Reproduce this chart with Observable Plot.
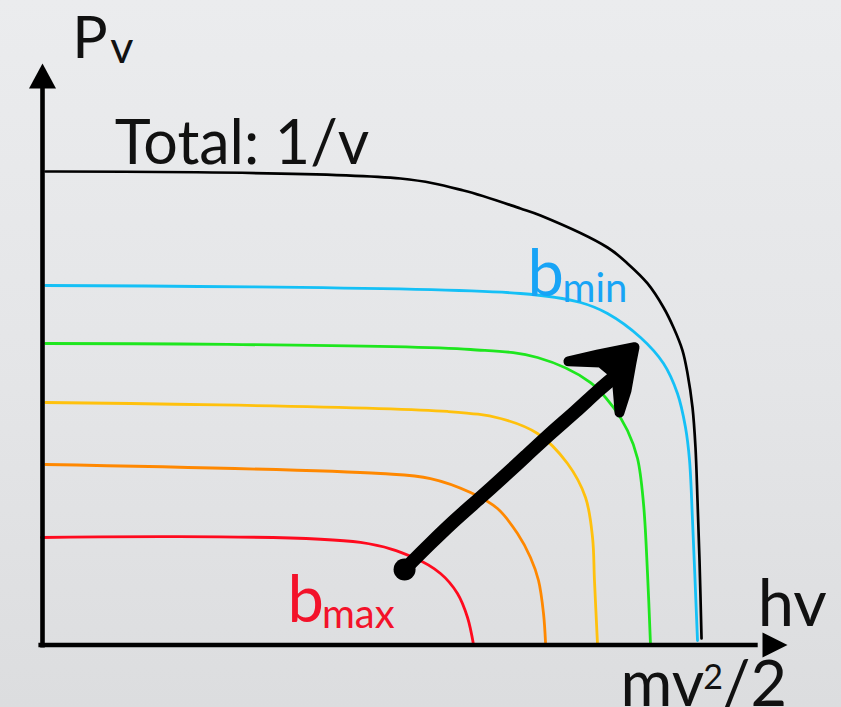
<!DOCTYPE html>
<html>
<head>
<meta charset="utf-8">
<script src="https://cdn.jsdelivr.net/npm/d3@7"></script>
<script src="https://cdn.jsdelivr.net/npm/@observablehq/plot@0.6"></script>
<style>
  html, body { margin: 0; padding: 0; }
  body {
    width: 841px; height: 707px; overflow: hidden;
    background: linear-gradient(to bottom, #ebecee 0%, #e4e5e7 55%, #dcdddf 100%);
  }
  #chart { position: absolute; left: 0; top: 0; }
</style>
</head>
<body>
<div id="chart"></div>
<script>
// Bremsstrahlung spectrum P_v against photon energy hv, in arbitrary units (0–100).
// Each impact-parameter curve is a list of [hv, P_v] points.
const totalCurve = [[0.4,81.43],[48.05,80.22],[56.51,78.16],[64.16,75.06],[66.85,73.86],[75.84,68.36],[78.52,65.61],[81.21,62.17],[83.36,58.04],[84.70,54.60],[85.91,50.64],[86.58,46.69],[87.25,40.84],[87.65,33.96],[87.92,24.85],[88.19,14.53],[88.46,1.12]];
const bMinCurve   = [[0.4,61.82],[64.16,60.45],[72.21,58.90],[75.84,57.01],[80.27,52.88],[83.36,48.41],[85.23,43.25],[86.31,37.40],[86.85,31.73],[87.25,21.41],[87.92,0.77]];
const greenCurve  = [[0.4,51.85],[57.45,50.82],[66.44,49.44],[73.56,45.14],[76.64,40.84],[78.52,36.89],[79.87,32.07],[80.67,24.33],[81.21,12.30],[81.61,0.09]];
const yellowCurve = [[0.4,41.70],[54.36,40.16],[61.48,38.95],[66.44,36.37],[70.47,31.21],[72.89,25.37],[73.83,18.49],[74.09,11.09],[74.50,0.09]];
const orangeCurve = [[0.4,31.04],[45.37,29.49],[52.08,28.63],[57.45,26.23],[61.07,23.47],[63.76,19.17],[65.50,15.05],[66.58,11.09],[67.25,5.42],[67.52,0.43]];
const bMaxCurve   = [[-0.13,18.49],[42.68,17.63],[49.80,15.05],[53.42,12.30],[55.70,8.86],[57.05,4.73],[57.85,0.09]];

const curves = [
  {name: "total", points: totalCurve,  color: "#000000", width: 2.7},
  {name: "bmin",  points: bMinCurve,   color: "#15c0f6", width: 2.8},
  {name: "b2",    points: greenCurve,  color: "#1ee61e", width: 2.8},
  {name: "b3",    points: yellowCurve, color: "#ffc10d", width: 2.8},
  {name: "b4",    points: orangeCurve, color: "#ff8800", width: 2.8},
  {name: "bmax",  points: bMaxCurve,   color: "#ff0a1e", width: 2.8}
];

// Hand-drawn arrow: from b_max towards b_min
const arrowShaft = [[48.72,13.17],[52.08,17.46],[55.03,21.07],[58.79,25.37],[61.48,28.46],[64.83,32.41],[68.19,36.37],[71.54,40.15],[74.63,43.77],[76.51,45.83]];
const arrowHead  = [[79.46,51.20],[74.63,49.98],[70.60,48.78],[74.90,48.59],[77.05,46.34],[77.32,42.39],[77.45,39.98],[78.39,43.77],[79.06,48.59],[79.46,51.20]];
const arrowTail  = [[48.6,13.0]];

// Axes
const axisLines = [
  {x1: 0, y1: -0.45, x2: 0, y2: 96},
  {x1: -0.55, y1: 0, x2: 96, y2: 0}
];
const axisTips = [
  {x: 0, y: 100, dir: "up"},
  {x: 100, y: 0, dir: "right"}
];

// Labels: text, hv, P_v (baseline), size, colour
const labelText  = ["P", "v", "Total: 1/v", "b", "min", "b", "max", "hv", "mv", "2", "/2"];
const labelX     = [4.0, 9.1, 9.7, 65.1, 69.8, 32.9, 37.5, 96.0, 77.6, 88.7, 91.2];
const labelY     = [100.9, 100.1, 82.8, 60.0, 59.0, 3.9, 3.0, 3.3, -10.5, -7.6, -10.5];
const labelSize  = [59, 45, 61, 65, 40, 65, 40, 65, 63, 34, 63];
const labelColor = ["#111", "#111", "#111", "#18a4f6", "#18a4f6", "#f3122a", "#f3122a", "#111", "#111", "#111", "#111"];

const labels = labelText.map((t, i) => ({
  text: t, x: labelX[i], y: labelY[i], size: labelSize[i], color: labelColor[i]
}));

// Filled triangle arrowheads with the tip at the symbol origin
const tipUp = {
  draw(ctx, size) {
    const r = Math.sqrt(size / Math.PI);
    ctx.moveTo(0, 0);
    ctx.lineTo(-1.35 * r, 2.5 * r);
    ctx.lineTo(1.35 * r, 2.5 * r);
    ctx.closePath();
  }
};
const tipRight = {
  draw(ctx, size) {
    const r = Math.sqrt(size / Math.PI);
    ctx.moveTo(0, 0);
    ctx.lineTo(-2.5 * r, -1.25 * r);
    ctx.lineTo(-2.5 * r, 1.25 * r);
    ctx.closePath();
  }
};

const chart = Plot.plot({
  width: 841,
  height: 707,
  marginLeft: 42,
  marginRight: 54,
  marginTop: 63,
  marginBottom: 62.5,
  x: {domain: [0, 100], axis: null},
  y: {domain: [0, 100], axis: null},
  style: {background: "transparent", overflow: "visible"},
  marks: [
    ...curves.map(c => Plot.line(c.points, {
      x: d => d[0], y: d => d[1],
      stroke: c.color, strokeWidth: c.width, curve: "catmull-rom"
    })),
    Plot.link(axisLines, {x1: "x1", y1: "y1", x2: "x2", y2: "y2", stroke: "#000", strokeWidth: 4.6}),
    Plot.dot(axisTips.filter(d => d.dir === "up"), {x: "x", y: "y", r: 10, symbol: tipUp, fill: "#000", stroke: null}),
    Plot.dot(axisTips.filter(d => d.dir === "right"), {x: "x", y: "y", r: 10, symbol: tipRight, fill: "#000", stroke: null}),
    Plot.line(arrowShaft, {
      x: d => d[0], y: d => d[1], stroke: "#000", strokeWidth: 13.5,
      strokeLinecap: "round", strokeLinejoin: "round", curve: "catmull-rom"
    }),
    Plot.line(arrowHead, {
      x: d => d[0], y: d => d[1], stroke: "#000", fill: "#000", strokeWidth: 10,
      strokeLinejoin: "round", strokeLinecap: "round"
    }),
    Plot.dot(arrowTail, {x: d => d[0], y: d => d[1], r: 11, fill: "#000", stroke: null}),
    ...labels.map(l => Plot.text([l], {
      x: "x", y: "y", text: "text", fill: l.color, fontSize: l.size,
      fontFamily: "Lato", textAnchor: "start", lineAnchor: "bottom"
    }))
  ]
});

document.getElementById("chart").appendChild(chart);
</script>
</body>
</html>
